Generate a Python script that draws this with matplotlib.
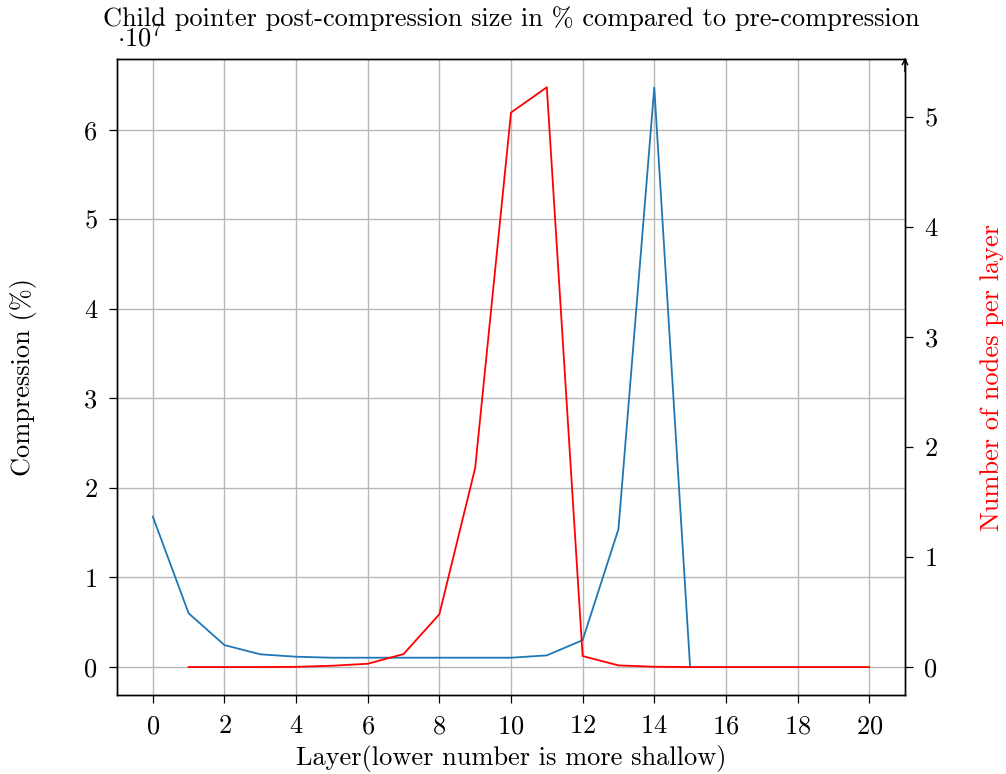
import matplotlib
matplotlib.use("Agg")
import matplotlib.pyplot as plt
from matplotlib.ticker import FuncFormatter, MultipleLocator

plt.rcParams["font.family"] = ["cmr10", "DejaVu Serif"]
plt.rcParams["mathtext.fontset"] = "cm"
plt.rcParams["axes.formatter.use_mathtext"] = True
plt.rcParams["axes.unicode_minus"] = False

# compression per layer (absolute, axis shown in units of 1e7)
layers_comp = [0, 1, 2, 3, 4, 5, 6, 7, 8, 9, 10, 11, 12, 13, 14, 15]
compression = [16.8e6, 6.0e6, 2.45e6, 1.42e6, 1.15e6, 1.04e6, 1.04e6, 1.04e6,
               1.04e6, 1.04e6, 1.04e6, 1.3e6, 3.0e6, 15.4e6, 64.7e6, 0.0]

# number of nodes per layer
layers_nodes = [1, 2, 3, 4, 5, 6, 7, 8, 9, 10, 11, 12, 13, 14, 15, 16, 17, 18, 19, 20]
nodes = [0.0, 0.0, 0.0, 0.002, 0.012, 0.03, 0.118, 0.48, 1.81, 5.04, 5.27,
         0.10, 0.015, 0.003, 0.0, 0.0, 0.0, 0.0, 0.0, 0.0]

FS = 19

fig = plt.figure(figsize=(10.06, 7.74), dpi=100)
ax = fig.add_axes([0.1163, 0.102, 0.7833, 0.8218])
ax2 = ax.twinx()

ax.plot(layers_comp, compression, color="#1f77b4", lw=1.3)
ax2.plot(layers_nodes, nodes, color="red", lw=1.3)

ax.set_xlim(-1, 21)
ax.set_ylim(-0.313e7, 6.79e7)
ax2.set_ylim(-0.2545, 5.527)

ax.xaxis.set_major_locator(MultipleLocator(2))
ax.yaxis.set_major_locator(MultipleLocator(1e7))
ax.yaxis.set_major_formatter(FuncFormatter(lambda v, p: f"{v / 1e7:.0f}"))
ax2.yaxis.set_major_locator(MultipleLocator(1))
ax2.yaxis.set_major_formatter(FuncFormatter(lambda v, p: f"{v:.0f}"))

ax.grid(True, color="#b8b8b8", lw=1.0)
ax.set_axisbelow(True)

for a in (ax, ax2):
    a.tick_params(labelsize=FS, length=6, width=0.9, direction="out",
                  colors="black", pad=8)
    for s in a.spines.values():
        s.set_linewidth(1.0)

ax.text(0.0, 1.012, r"$\cdot 10^7$", transform=ax.transAxes, fontsize=FS,
        ha="left", va="bottom")

ax.set_xlabel("Layer(lower number is more shallow)", fontsize=FS, labelpad=5)
ax.set_ylabel("Compression (%)", fontsize=FS, labelpad=34)
ax2.set_ylabel("Number of nodes per layer", fontsize=FS, color="red", labelpad=31)
ax.set_title("Child pointer post-compression size in % compared to pre-compression",
             fontsize=FS, pad=24)

# arrow head on the right axis
ax2.annotate("", xy=(1, 1.002), xytext=(1, 0.98), xycoords="axes fraction",
             arrowprops=dict(arrowstyle="->", color="black", lw=1.0,
                             shrinkA=0, shrinkB=0), annotation_clip=False)

fig.savefig("out.png", dpi=100)
